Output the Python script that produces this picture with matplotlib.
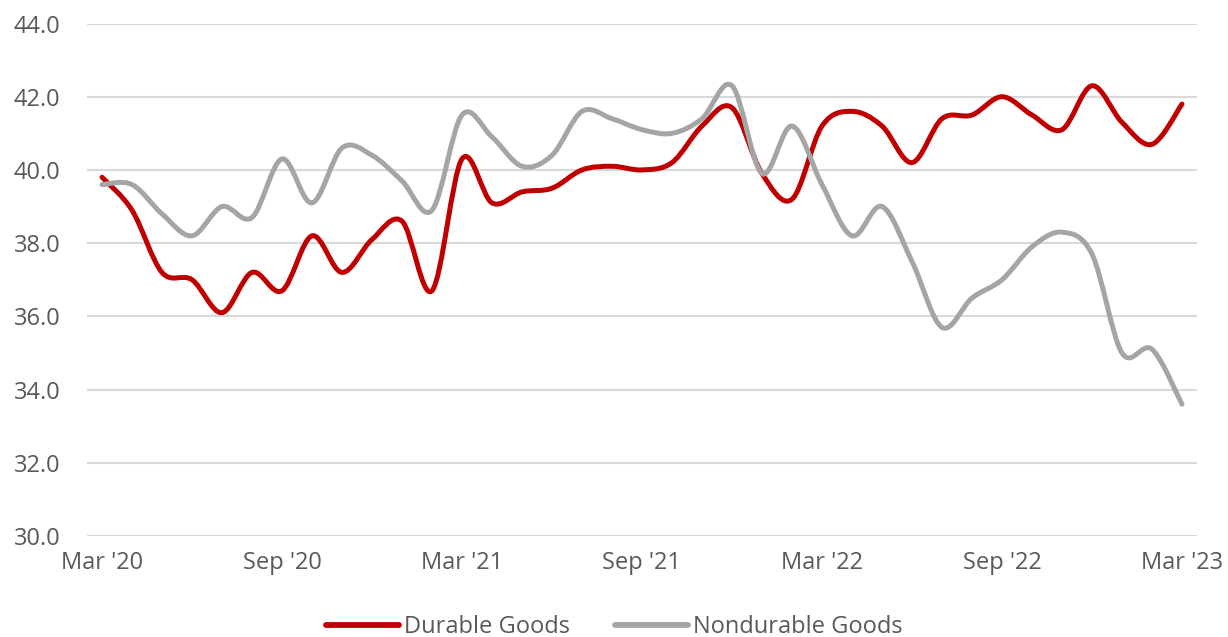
import matplotlib.pyplot as plt
from matplotlib.path import Path
from matplotlib.patches import PathPatch
from matplotlib.lines import Line2D
import numpy as np

plt.rcParams['font.family'] = ['Open Sans', 'DejaVu Sans']

# monthly values, Mar '20 .. Mar '23
durable = [39.8, 38.9, 37.2, 37.0, 36.1, 37.2, 36.7, 38.2, 37.2, 38.1,
           38.6, 36.7, 40.3, 39.1, 39.4, 39.5, 40.0, 40.1, 40.0, 40.2,
           41.2, 41.7, 39.9, 39.2, 41.2, 41.6, 41.2, 40.2, 41.4, 41.5,
           42.0, 41.5, 41.1, 42.3, 41.3, 40.7, 41.8]
nondurable = [39.6, 39.6, 38.8, 38.2, 39.0, 38.7, 40.3, 39.1, 40.6, 40.4,
              39.7, 38.9, 41.5, 40.9, 40.1, 40.4, 41.6, 41.4, 41.1, 41.0,
              41.4, 42.3, 39.9, 41.2, 39.6, 38.2, 39.0, 37.5, 35.7, 36.5,
              37.0, 37.9, 38.3, 37.7, 35.0, 35.1, 33.6]
tick_labels = ["Mar '20", "Sep '20", "Mar '21", "Sep '21", "Mar '22", "Sep '22", "Mar '23"]
series_names = ['Durable Goods', 'Nondurable Goods']
colors = ['#C00000', '#A5A5A5']
text_col = '#595959'
fs = 17


def smooth_path(y):
    # excel-like smoothed line: cubic bezier segments with catmull-rom handles
    x = np.arange(len(y), dtype=float)
    y = np.asarray(y, dtype=float)
    pts = np.column_stack([x, y])
    verts = [pts[0]]
    codes = [Path.MOVETO]
    n = len(pts)
    for i in range(n - 1):
        p0 = pts[max(i - 1, 0)]
        p1 = pts[i]
        p2 = pts[i + 1]
        p3 = pts[min(i + 2, n - 1)]
        c1 = p1 + (p2 - p0) / 6
        c2 = p2 - (p3 - p1) / 6
        verts += [c1, c2, p2]
        codes += [Path.CURVE4] * 3
    return Path(verts, codes)


fig = plt.figure(figsize=(12.28, 6.37), dpi=100)
ax = fig.add_axes([87 / 1228, 1 - 536 / 637, (1197 - 87) / 1228, (536 - 23.5) / 637])

for vals, col in zip([durable, nondurable], colors):
    patch = PathPatch(smooth_path(vals), facecolor='none', edgecolor=col,
                      linewidth=3.6, capstyle='round', joinstyle='round', zorder=3)
    ax.add_patch(patch)

ax.set_xlim(-0.5, len(durable) - 0.5)
ax.set_ylim(30, 44)
ax.set_yticks(np.arange(30, 44.1, 2))
ax.set_yticklabels(['%.1f' % v for v in np.arange(30, 44.1, 2)])
ax.set_xticks(np.arange(0, len(durable), 6))
ax.set_xticklabels(tick_labels)
ax.grid(axis='y', color='#D9D9D9', linewidth=1.5)
ax.set_axisbelow(True)
for s in ax.spines.values():
    s.set_visible(False)
ax.tick_params(axis='both', length=0, labelsize=fs, colors=text_col)
ax.tick_params(axis='y', pad=19)
ax.tick_params(axis='x', pad=11)

handles = [Line2D([], [], color=c, linewidth=4.2, solid_capstyle='round') for c in colors]
leg = fig.legend(handles, series_names, loc='center', bbox_to_anchor=(0.5, 1 - 627 / 637),
                 ncol=2, frameon=False, fontsize=fs, handlelength=3.1,
                 handletextpad=0.2, columnspacing=1.9)
for t in leg.get_texts():
    t.set_color(text_col)

fig.savefig('out.png', dpi=100)
